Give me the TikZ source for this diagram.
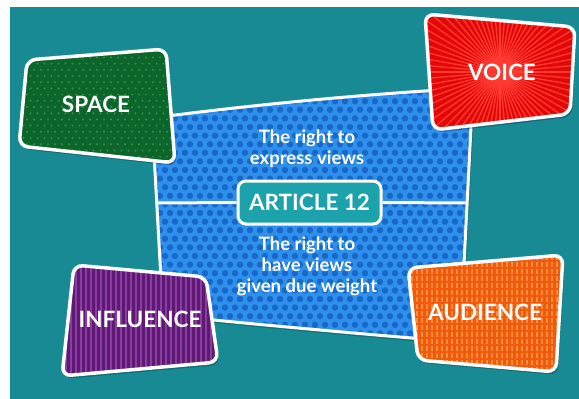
\documentclass[tikz,border=0pt]{standalone}
\usepackage{fontspec}
\setmainfont{Lato}
\definecolor{bgteal}{HTML}{188A94}
\definecolor{blue0}{HTML}{2E90EA}
\definecolor{bluedot}{HTML}{1868CC}
\definecolor{green0}{HTML}{0C652A}
\definecolor{greendot}{HTML}{2E9444}
\definecolor{red0}{HTML}{E20808}
\definecolor{redray}{HTML}{FF3A30}
\definecolor{purple0}{HTML}{5E1A72}
\definecolor{purplestripe}{HTML}{8A3DA2}
\definecolor{orange0}{HTML}{F05A0C}
\definecolor{orangestripe}{HTML}{FF8C3A}
\definecolor{artfill}{HTML}{1CA2AA}
\def\bluepath{(152,118) .. controls (259,104) and (366,94) .. (473,88) -- (460,342) .. controls (361,334) and (262,325) .. (163,315) -- cycle}
\def\spacepath{(27,60) -- (166,49) -- (175,163) -- (19,146) -- cycle}
\def\voicepath{(425,14) -- (575,27) -- (570,114) -- (433,130) -- cycle}
\def\inflpath{(74,265) -- (206,277) -- (218,362) -- (62,376) -- cycle}
\def\audpath{(408,268) -- (563,255) -- (556,372) -- (418,360) -- cycle}
\tikzset{
  rc/.style={rounded corners=9pt},
  boxborder/.style={draw=white, line width=3.5pt, rounded corners=9pt},
  shadowfill/.style={fill=black, opacity=0.22, rounded corners=9pt},
  lbl/.style={text=white, font=\bfseries\fontsize{22.5}{26}\selectfont, inner sep=0pt},
  sublbl/.style={text=white, font=\bfseries\fontsize{18.5}{20.8}\selectfont, align=center, inner sep=0pt},
  artbox/.style={fill=artfill, draw=white, line width=3pt, rounded corners=8pt, minimum width=143pt, minimum height=43pt, text=white, font=\bfseries\fontsize{22.5}{26}\selectfont},
  divider/.style={draw=white, line width=3pt}
}
\begin{document}
\begin{tikzpicture}[x=1pt,y=-1pt]
\useasboundingbox (0,0) rectangle (579,399);
\fill[white] (0,0) rectangle (579,399);
\fill[bgteal] (10,7) rectangle (579,399);
% central blue panel
\fill[black,opacity=0.2,shift={(2,3)}] \bluepath;
\begin{scope}
  \clip \bluepath;
  \fill[blue0] (140,80) rectangle (480,350);
  \foreach \j in {0,...,31} {
    \foreach \i in {0,...,34} {
      \fill[bluedot] ({145+\i*10+mod(\j,2)*5},{84+\j*8.6}) circle (3.2);
    }
  }
\end{scope}
\draw[draw=white, line width=3pt] \bluepath;
\coordinate (hl) at (157,203);
\coordinate (hr) at (467,203);
\node[artbox] (art) at (309.5,202.5) {ARTICLE 12};
\draw[divider] (hl) -- (art.west);
\draw[divider] (art.east) -- (hr);
\node[sublbl] (t1) at (307,149) {The right to\\express views};
\node[sublbl] (t2) at (307,266) {The right to\\have views\\given due weight};
% SPACE
\fill[shadowfill,shift={(2,3)}] \spacepath;
\begin{scope}
  \clip[rc] \spacepath;
  \fill[green0] (10,40) rectangle (185,170);
  \foreach \j in {0,...,20} {
    \foreach \i in {0,...,25} {
      \fill[greendot] ({13+\i*7+mod(\j,2)*3.5},{45+\j*6.2}) circle (1.1);
    }
  }
\end{scope}
\draw[boxborder] \spacepath;
\node[lbl] (space) at (96,104) {SPACE};
% VOICE
\fill[shadowfill,shift={(2,3)}] \voicepath;
\begin{scope}
  \clip[rc] \voicepath;
  \fill[red0] (415,5) rectangle (579,140);
  \foreach \a in {0,5,...,355} {
    \draw[redray, line width=1.3pt] (500,72) -- ++(\a:160);
  }
\end{scope}
\draw[boxborder] \voicepath;
\node[lbl] (voice) at (502,72) {VOICE};
% INFLUENCE
\fill[shadowfill,shift={(2,3)}] \inflpath;
\begin{scope}
  \clip[rc] \inflpath;
  \fill[purple0] (55,255) rectangle (225,385);
  \foreach \x in {56,61,...,226} {
    \draw[purplestripe, line width=2pt] (\x,255) -- (\x,385);
  }
\end{scope}
\draw[boxborder] \inflpath;
\node[lbl] (infl) at (140,319) {INFLUENCE};
% AUDIENCE
\fill[shadowfill,shift={(2,3)}] \audpath;
\begin{scope}
  \clip[rc] \audpath;
  \fill[orange0] (400,245) rectangle (570,380);
  \foreach \x in {402,407,...,572} {
    \draw[orangestripe, line width=1.8pt, dash pattern=on 5pt off 2pt] (\x,248) -- (\x,380);
  }
\end{scope}
\draw[boxborder] \audpath;
\node[lbl] (aud) at (485,312) {AUDIENCE};
\end{tikzpicture}
\end{document}
